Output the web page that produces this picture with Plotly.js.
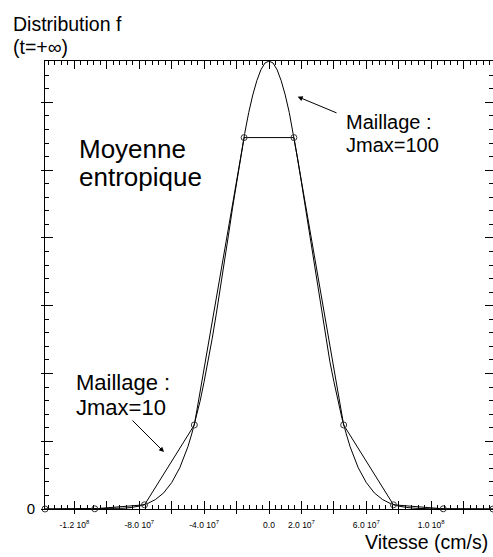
<!DOCTYPE html>
<html>
<head>
<meta charset="utf-8">
<script src="https://cdn.plot.ly/plotly-3.0.1.min.js"></script>
<style>html,body{margin:0;padding:0;background:#fff;}#chart{width:493px;height:557px;}</style>
</head>
<body>
<div id="chart"></div>
<script>
// Coarse mesh (Jmax=10) grid points and values
const vCoarse = [-1.3815e8, -1.0745e8, -7.675e7, -4.605e7, -1.535e7, 1.535e7, 4.605e7, 7.675e7, 1.0745e8, 1.3815e8];
const fCoarse = [0, 0.003, 0.062, 1.24, 5.48, 5.48, 1.24, 0.062, 0.003, 0];

// Fine mesh (Jmax=100) curve
const vFine = [-1.38e8, -1.2e8, -1.1e8, -1.0e8, -9.0e7, -8.5e7, -8.0e7, -7.5e7, -7.0e7, -6.5e7, -6.0e7, -5.5e7,
  -5.0e7, -4.75e7, -4.5e7, -4.25e7, -4.0e7, -3.75e7, -3.5e7, -3.25e7, -3.0e7, -2.75e7, -2.5e7, -2.25e7,
  -2.0e7, -1.75e7, -1.5e7, -1.25e7, -1.0e7, -7.5e6, -5.0e6, -2.5e6, 0,
  2.5e6, 5.0e6, 7.5e6, 1.0e7, 1.25e7, 1.5e7, 1.75e7, 2.0e7, 2.25e7, 2.5e7, 2.75e7, 3.0e7, 3.25e7, 3.5e7,
  3.75e7, 4.0e7, 4.25e7, 4.5e7, 4.75e7, 5.0e7, 5.5e7, 6.0e7, 6.5e7, 7.0e7, 7.5e7, 8.0e7, 8.5e7, 9.0e7,
  1.0e8, 1.1e8, 1.2e8, 1.38e8];
const fFine = [0, 0, 0.0005, 0.0025, 0.011, 0.022, 0.043, 0.079, 0.14, 0.237, 0.39, 0.61,
  0.92, 1.12, 1.34, 1.59, 1.88, 2.18, 2.52, 2.88, 3.25, 3.64, 4.04, 4.44,
  4.82, 5.19, 5.54, 5.85, 6.11, 6.32, 6.48, 6.58, 6.61,
  6.58, 6.48, 6.32, 6.11, 5.85, 5.54, 5.19, 4.82, 4.44, 4.04, 3.64, 3.25, 2.88, 2.52,
  2.18, 1.88, 1.59, 1.34, 1.12, 0.92, 0.61, 0.39, 0.237, 0.14, 0.079, 0.043, 0.022, 0.011,
  0.0025, 0.0005, 0, 0];

// Labelled ticks
const xLabelVals = [-1.2e8, -8.0e7, -4.0e7, 0, 2.0e7, 6.0e7, 1.0e8];
const xLabelText = ['-1.2 10<sup>8</sup>', '-8.0 10<sup>7</sup>', '-4.0 10<sup>7</sup>', '0.0',
  '2.0 10<sup>7</sup>', '6.0 10<sup>7</sup>', '1.0 10<sup>8</sup>'];
const yLabelVals = [0];
const yLabelText = ['0'];

const xRange = [-1.3815e8, 1.3815e8];
const yRange = [0, 6.61];

const FONT = 'Liberation Sans, Arial, sans-serif';

const traces = [
  {x: vFine, y: fFine, mode: 'lines', line: {color: '#000', width: 1}, hoverinfo: 'skip', showlegend: false},
  {x: vCoarse, y: fCoarse, mode: 'lines+markers', line: {color: '#000', width: 1},
   marker: {symbol: 'circle-open', size: 6, color: '#333', line: {width: 1, color: '#333'}},
   cliponaxis: false, hoverinfo: 'skip', showlegend: false},
  {x: [null], y: [null], xaxis: 'x2', yaxis: 'y2', mode: 'markers', hoverinfo: 'skip', showlegend: false},
  {x: [null], y: [null], xaxis: 'x3', yaxis: 'y3', mode: 'markers', hoverinfo: 'skip', showlegend: false}
];

function px(x) { return (x - 45) / 448; }
function py(y) { return (509 - y) / 448; }

function txt(text, x, y, size, xanchor) {
  return {text: text, xref: 'paper', yref: 'paper', x: px(x), y: py(y), xanchor: xanchor || 'left',
    yanchor: 'middle', showarrow: false, font: {family: FONT, size: size, color: '#000'}, borderpad: 0};
}
function arrow(hx, hy, tx, ty) {
  return {text: '', xref: 'paper', yref: 'paper', x: px(hx), y: py(hy), ax: tx - hx, ay: ty - hy,
    showarrow: true, arrowhead: 2, arrowsize: 1, arrowwidth: 1, arrowcolor: '#000'};
}

const layout = {
  width: 493, height: 557,
  margin: {l: 45, r: 0, t: 61, b: 48, pad: 0},
  paper_bgcolor: '#fff', plot_bgcolor: '#fff',
  font: {family: FONT, color: '#000'},
  xaxis: {
    range: xRange, tickmode: 'linear', tick0: 0, dtick: 2e7, showticklabels: false,
    ticks: 'inside', ticklen: 8, tickwidth: 1, tickcolor: '#000',
    showline: true, linecolor: '#000', linewidth: 1, mirror: 'ticks',
    showgrid: false, zeroline: false,
    minor: {tickmode: 'linear', tick0: 0, dtick: 4e6, ticks: 'inside', ticklen: 4, tickwidth: 1, tickcolor: '#000', showgrid: false}
  },
  yaxis: {
    range: yRange, tickmode: 'linear', tick0: 0, dtick: 1, showticklabels: false,
    ticks: 'inside', ticklen: 8, tickwidth: 1, tickcolor: '#000',
    showline: true, linecolor: '#000', linewidth: 1, mirror: 'ticks',
    showgrid: false, zeroline: false,
    minor: {tickmode: 'linear', tick0: 0, dtick: 0.2, ticks: 'inside', ticklen: 4, tickwidth: 1, tickcolor: '#000', showgrid: false}
  },
  xaxis2: {
    overlaying: 'x', anchor: 'y2', side: 'bottom', range: xRange, tickmode: 'array',
    tickvals: xLabelVals, ticktext: xLabelText, ticks: '', ticklabelstandoff: 9,
    tickfont: {size: 8.5, family: FONT, color: '#000'},
    showline: false, showgrid: false, zeroline: false
  },
  yaxis2: {
    overlaying: 'y', anchor: 'x2', side: 'left', range: yRange, tickmode: 'array',
    tickvals: yLabelVals, ticktext: yLabelText, ticks: '', ticklabelstandoff: 9,
    tickfont: {size: 15, family: FONT, color: '#000'},
    showline: false, showgrid: false, zeroline: false
  },
  xaxis3: {
    overlaying: 'x', anchor: 'y3', side: 'bottom', range: xRange, tickmode: 'linear', tick0: 0, dtick: 2e7,
    showticklabels: false, ticks: 'outside', ticklen: 4, tickwidth: 1, tickcolor: '#000',
    showline: false, showgrid: false, zeroline: false
  },
  yaxis3: {
    overlaying: 'y', anchor: 'x3', side: 'left', range: yRange, tickmode: 'linear', tick0: 0, dtick: 1,
    showticklabels: false, ticks: 'outside', ticklen: 3, tickwidth: 1, tickcolor: '#000',
    showline: false, showgrid: false, zeroline: false
  },
  annotations: [
    txt('Distribution f', 12, 24, 19.5),
    txt('(t=+\u221e)', 12, 47.5, 19.5),
    txt('Vitesse (cm/s)', 489, 541.5, 19.5, 'right'),
    txt('Moyenne', 78, 149, 26),
    txt('entropique', 78, 177, 26),
    txt('Maillage :', 345, 122, 20),
    txt('Jmax=100', 345, 144.5, 20),
    txt('Maillage :', 75, 382.5, 22),
    txt('Jmax=10', 75, 407.5, 22),
    arrow(297.7, 96.7, 338, 113.5),
    arrow(164, 452, 131, 419)
  ]
};

Plotly.newPlot('chart', traces, layout, {displayModeBar: false, staticPlot: true});
</script>
</body>
</html>
